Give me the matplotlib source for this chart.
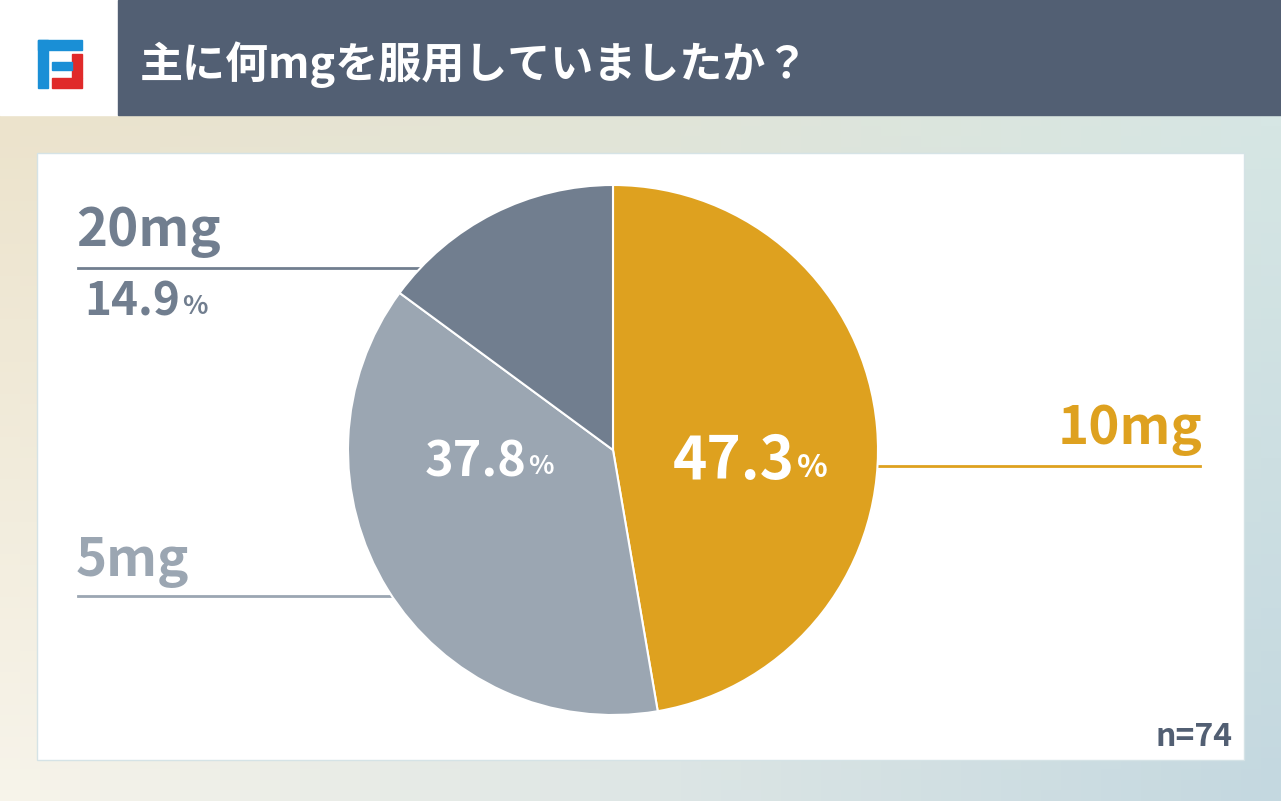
import matplotlib
matplotlib.use('Agg')
import matplotlib.pyplot as plt
import numpy as np
from matplotlib.patches import Rectangle

plt.rcParams['font.family'] = ['Noto Sans CJK JP', 'DejaVu Sans']

labels = ['10mg', '5mg', '20mg']
values = [47.3, 37.8, 14.9]
colors = ['#dea11f', '#9ba6b2', '#717e8f']
title = '主に何mgを服用していましたか？'
n_text = 'n=74'

W, H = 1281, 801
fig = plt.figure(figsize=(W / 100, H / 100), dpi=100)
ax = fig.add_axes([0, 0, 1, 1])
ax.set_xlim(0, W)
ax.set_ylim(0, H)
ax.set_aspect('equal')
ax.axis('off')

def Y(y):
    return H - y

# gradient background
tl = np.array([236, 227, 204]) / 255
tr = np.array([214, 230, 228]) / 255
bl = np.array([247, 244, 234]) / 255
br = np.array([196, 216, 224]) / 255
u = np.linspace(0, 1, 64)[None, :, None]
v = np.linspace(0, 1, 64)[:, None, None]
grad = (1 - v) * ((1 - u) * tl + u * tr) + v * ((1 - u) * bl + u * br)
ax.imshow(grad, extent=(0, W, Y(801), Y(115)), origin='upper', zorder=0)

# header
ax.add_patch(Rectangle((0, Y(115)), 118, 115, color='white', zorder=1))
ax.add_patch(Rectangle((118, Y(115)), W - 118, 115, color='#525f73', zorder=1))
ax.text(140, Y(65), title, color='white', fontsize=31, fontweight='bold', va='center', zorder=2)
# logo
ax.add_patch(Rectangle((38, Y(88)), 10, 48, color='#1a8fd6', zorder=2))
ax.add_patch(Rectangle((38, Y(50)), 44, 10, color='#1a8fd6', zorder=2))
ax.add_patch(Rectangle((52, Y(88)), 30, 10, color='#e02a2a', zorder=2))
ax.add_patch(Rectangle((72, Y(78)), 10, 24, color='#e02a2a', zorder=2))
ax.add_patch(Rectangle((52, Y(70)), 20, 8, color='#1a8fd6', zorder=2))

# white panel
ax.add_patch(Rectangle((37, Y(760)), 1207, 607, facecolor='white', edgecolor='#d5e3e6', lw=1, zorder=1))

# pie
wedges, _ = ax.pie(values, colors=colors, startangle=90, counterclock=False,
                   center=(613, Y(450)), radius=265, frame=True,
                   wedgeprops=dict(edgecolor='white', linewidth=1.5))
for w in wedges:
    w.set_zorder(3)
ax.set_xlim(0, W)
ax.set_ylim(0, H)
ax.axis('off')

# leader lines
ax.plot([78, 420], [Y(268), Y(268)], color=colors[2], lw=2, zorder=2)
ax.plot([78, 393], [Y(596), Y(596)], color=colors[1], lw=2, zorder=2)
ax.plot([878, 1200], [Y(466), Y(466)], color=colors[0], lw=2, zorder=2)

bold = dict(fontweight='bold', zorder=4)
ax.text(76, Y(232), labels[2], color=colors[2], fontsize=38, va='center', ha='left', **bold)
ax.text(180, Y(303), '14.9', color=colors[2], fontsize=33, va='center', ha='right', **bold)
ax.text(182, Y(307), '%', color=colors[2], fontsize=19, va='center', ha='left', **bold)
ax.text(76, Y(562), labels[1], color=colors[1], fontsize=38, va='center', ha='left', **bold)
ax.text(1202, Y(430), labels[0], color=colors[0], fontsize=38, va='center', ha='right', **bold)

ax.text(795, Y(462), '47.3', color='white', fontsize=42, va='center', ha='right', **bold)
ax.text(797, Y(468), '%', color='white', fontsize=23, va='center', ha='left', **bold)
ax.text(527, Y(462), '37.8', color='white', fontsize=35, va='center', ha='right', **bold)
ax.text(528, Y(467), '%', color='white', fontsize=19, va='center', ha='left', **bold)

ax.text(1232, Y(737), n_text, color='#525f73', fontsize=23, va='center', ha='right', **bold)

fig.savefig('out.png', dpi=100)
